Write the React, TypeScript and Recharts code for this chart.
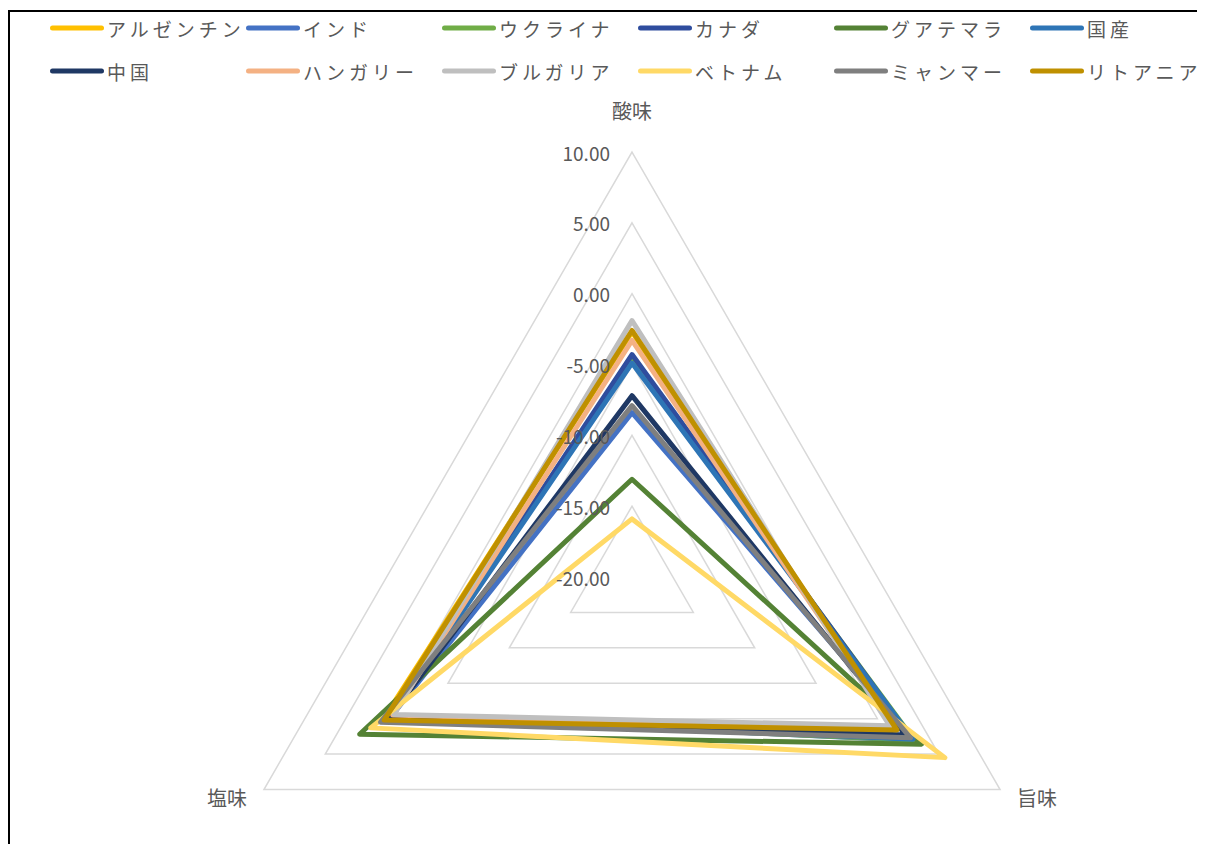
import { RadarChart, Radar, PolarGrid, PolarAngleAxis, PolarRadiusAxis } from 'recharts';

const FONT = '"Noto Sans CJK JP", "Noto Sans", sans-serif';
const TEXT = '#595959';

// taste axes, clockwise from the top
const axes = ['酸味', '旨味', '塩味'];

// one value per axis: 酸味, 旨味, 塩味
const argentina = [-2.7, 1.5, 0.4];
const india = [-8.4, 3.1, -0.4];
const ukraine = [-4.6, 3.0, -0.3];
const canada = [-4.3, 2.8, -0.5];
const guatemala = [-13.1, 3.6, 2.2];
const domestic = [-4.9, 2.9, -0.4];
const china = [-7.2, 2.3, -0.3];
const hungary = [-3.3, 1.5, -0.5];
const bulgaria = [-1.9, 1.0, -0.6];
const vietnam = [-15.9, 5.5, 1.3];
const myanmar = [-7.9, 2.7, 0.5];
const lithuania = [-2.6, 1.6, 0.2];

const seriesNames = [
  'アルゼンチン', 'インド', 'ウクライナ', 'カナダ', 'グアテマラ', '国産',
  '中国', 'ハンガリー', 'ブルガリア', 'ベトナム', 'ミャンマー', 'リトアニア'
];
const seriesValues = [
  argentina, india, ukraine, canada, guatemala, domestic,
  china, hungary, bulgaria, vietnam, myanmar, lithuania
];
const seriesColors = [
  '#FFC000', '#4472C4', '#70AD47', '#2F4D9E', '#548235', '#2E75B6',
  '#1F3864', '#F4B183', '#BFBFBF', '#FFD966', '#7F7F7F', '#BF9000'
];

const radiusTicks = [-20, -15, -10, -5, 0, 5, 10];

const data = axes.map((axis, i) => {
  const row: Record<string, any> = { axis };
  seriesNames.forEach((name, s) => {
    row[name] = seriesValues[s][i];
  });
  return row;
});

// page is 852 tall with an 8px body margin top and bottom
const W = 1189;
const H = 836;
const CX = 624;
const CY = 569;
const R = 425;

// label offsets from the default angle-axis tick point
const angleLabelOffset: Record<string, [number, number]> = {
  '酸味': [0, -34],
  '旨味': [30, 4],
  '塩味': [-30, 4]
};

const AngleTick = ({ x, y, payload }: any) => {
  const [dx, dy] = angleLabelOffset[payload.value] || [0, 0];
  return (
    <text
      x={x + dx}
      y={y + dy}
      textAnchor="middle"
      dominantBaseline="central"
      fill={TEXT}
      fontSize={20}
      fontFamily={FONT}
    >
      {payload.value}
    </text>
  );
};

const RadiusTick = ({ x, y, payload }: any) => (
  <text
    x={x - 22}
    y={y}
    textAnchor="end"
    dominantBaseline="central"
    fill={TEXT}
    fontSize={19}
    fontFamily={FONT}
  >
    {Number(payload.value).toFixed(2)}
  </text>
);

const LegendGrid = () => (
  <div
    style={{
      position: 'absolute',
      left: 0,
      top: 0,
      width: 1150,
      height: 90,
      fontFamily: FONT,
      fontSize: 19,
      color: TEXT
    }}
  >
    {seriesNames.map((name, i) => {
      const col = i % 6;
      const row = Math.floor(i / 6);
      return (
        <div
          key={name}
          style={{
            position: 'absolute',
            left: 42 + col * 196,
            top: 20 + row * 43,
            transform: 'translateY(-50%)',
            display: 'flex',
            alignItems: 'center',
            whiteSpace: 'nowrap'
          }}
        >
          <div
            style={{
              width: 54,
              height: 5,
              borderRadius: 3,
              background: seriesColors[i],
              marginRight: 3
            }}
          />
          <span style={{ letterSpacing: 4 }}>{name}</span>
        </div>
      );
    })}
  </div>
);

export default function App() {
  return (
    <div style={{ position: 'relative', width: W, height: H, background: '#fff' }}>
      {/* frame: only the left and top edges fall inside the page */}
      <div style={{ position: 'absolute', left: 0, top: 2, width: 2, height: H, background: '#000' }} />
      <div style={{ position: 'absolute', left: 0, top: 2, width: W + 8, height: 2, background: '#000' }} />
      <RadarChart
        width={W}
        height={H}
        data={data}
        cx={CX}
        cy={CY}
        outerRadius={R}
        startAngle={90}
        endAngle={-270}
      >
        <PolarGrid gridType="polygon" radialLines={false} stroke="#D9D9D9" strokeWidth={1.5} />
        <PolarAngleAxis dataKey="axis" tick={AngleTick} tickLine={false} axisLine={false} />
        <PolarRadiusAxis
          angle={90}
          domain={[-20, 10]}
          ticks={radiusTicks}
          tickCount={7}
          tick={RadiusTick}
          axisLine={false}
          tickLine={false}
        />
        {seriesNames.map((name, i) => (
          <Radar
            key={name}
            name={name}
            dataKey={name}
            stroke={seriesColors[i]}
            strokeWidth={5}
            strokeLinejoin="round"
            fill="none"
            fillOpacity={0}
            dot={false}
            isAnimationActive={false}
          />
        ))}
      </RadarChart>
      <LegendGrid />
    </div>
  );
}
